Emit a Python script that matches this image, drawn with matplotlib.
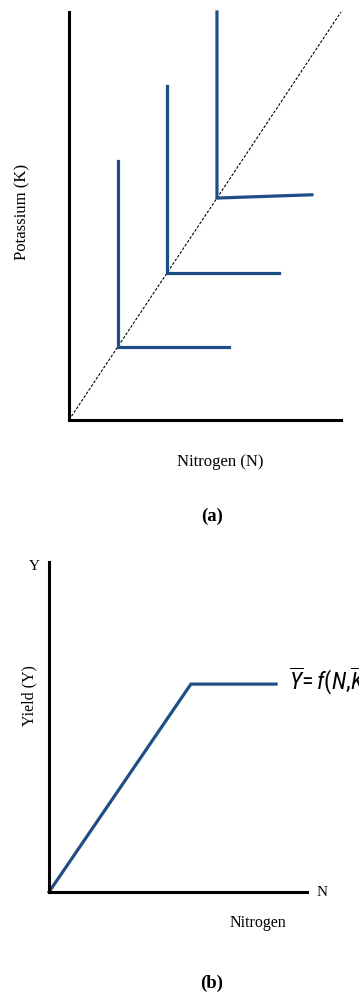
import matplotlib.pyplot as plt
from matplotlib import font_manager

# panel (a): isoquant-like L shapes on a K = N diagonal
corner_n = [1.8, 3.6, 5.44]
corner_k = [1.8, 3.6, 5.44]
top_k = [6.35, 8.19, 10.0]
right_n = [5.88, 7.72, 8.93]
right_k = [1.8, 3.6, 5.52]
diag_n = [0, 10]
diag_k = [0, 10]

# panel (b): yield response to nitrogen
yield_n = [0, 5.5, 8.8]
yield_y = [0, 6.3, 6.3]

blue = '#1f4e87'
W, H = 359, 995

# narrow sans for the formula, whatever is around
have = sorted({f.name for f in font_manager.fontManager.ttflist})
narrow = 'Roboto'
for cand in ['Liberation Sans Narrow', 'Roboto Condensed', 'DejaVu Sans Condensed',
             'Noto Sans Condensed', 'Open Sans Condensed']:
    if cand in have:
        narrow = cand
        break

plt.rcParams['font.family'] = ['Liberation Serif', 'DejaVu Serif']
plt.rcParams['mathtext.fontset'] = 'custom'
plt.rcParams['mathtext.it'] = narrow + ':italic'
plt.rcParams['mathtext.rm'] = narrow

fig = plt.figure(figsize=(W / 100, H / 100), dpi=100)


def px_axes(x0, y0, x1, y1):
    return fig.add_axes([x0 / W, 1 - y1 / H, (x1 - x0) / W, (y1 - y0) / H])


def strip(ax):
    ax.set_xlim(0, 10)
    ax.set_ylim(0, 10)
    ax.set_xticks([])
    ax.set_yticks([])
    for s in ['top', 'right']:
        ax.spines[s].set_visible(False)
    for s in ['left', 'bottom']:
        ax.spines[s].set_linewidth(2.2)
        ax.spines[s].set_color('black')
    ax.patch.set_visible(False)


# --- (a)
ax1 = px_axes(69, 13, 341, 421)
strip(ax1)
ax1.plot(diag_n, diag_k, ls=(0, (2.5, 1.5)), color='black', lw=0.8, clip_on=False)
for i in range(len(corner_n)):
    ax1.plot([corner_n[i], corner_n[i], right_n[i]],
             [top_k[i], corner_k[i], right_k[i]],
             color=blue, lw=2.3, solid_joinstyle='miter', clip_on=False)

fig.text(22 / W, 1 - 212 / H, 'Potassium (K)', rotation=90, ha='center', va='center', fontsize=12)
fig.text(220 / W, 1 - 462 / H, 'Nitrogen (N)', ha='center', va='center', fontsize=12)
fig.text(212 / W, 1 - 516 / H, '(a)', ha='center', va='center', fontsize=13.5, fontweight='bold')

# --- (b)
ax2 = px_axes(49, 563, 307, 893)
strip(ax2)
ax2.plot(yield_n, yield_y, color=blue, lw=2.3, solid_joinstyle='miter', clip_on=False)

fig.text(34 / W, 1 - 566 / H, 'Y', ha='center', va='center', fontsize=11)
fig.text(322 / W, 1 - 892 / H, 'N', ha='center', va='center', fontsize=11)
fig.text(29 / W, 1 - 696 / H, 'Yield (Y)', rotation=90, ha='center', va='center', fontsize=11.5)
fig.text(258 / W, 1 - 923 / H, 'Nitrogen', ha='center', va='center', fontsize=11.5)
fig.text(212 / W, 1 - 983 / H, '(b)', ha='center', va='center', fontsize=13.5, fontweight='bold')
# the formula runs past the right edge, as in the source figure
fig.text(289 / W, 1 - 681 / H, r'$\overline{Y}\!=f(N,\!\overline{K})$',
         ha='left', va='center', fontsize=17)

fig.savefig('out.png', dpi=100)
